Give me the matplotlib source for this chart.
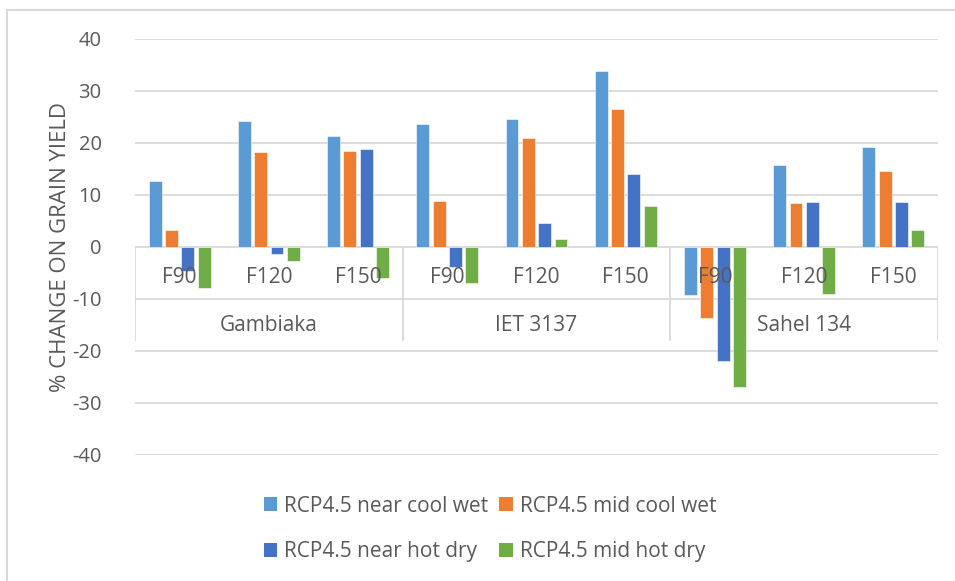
import matplotlib.pyplot as plt
from matplotlib.patches import Patch

plt.rcParams['font.family'] = ['Open Sans', 'DejaVu Sans']

varietats = ['Gambiaka', 'IET 3137', 'Sahel 134']
dosis = ['F90', 'F120', 'F150']
series = ['RCP4.5 near cool wet', 'RCP4.5 mid cool wet',
          'RCP4.5 near hot dry', 'RCP4.5 mid hot dry']
colors = ['#5B9BD5', '#ED7D31', '#4472C4', '#70AD47']

# valors per categoria (Gambiaka F90..F150, IET 3137 F90..F150, Sahel 134 F90..F150)
near_cool_wet = [12.6, 24.2, 21.3, 23.6, 24.6, 33.9, -9.2, 15.8, 19.3]
mid_cool_wet = [3.2, 18.3, 18.4, 8.9, 20.9, 26.6, -13.6, 8.4, 14.7]
near_hot_dry = [-4.6, -1.3, 18.8, -3.8, 4.7, 14.0, -21.9, 8.7, 8.7]
mid_hot_dry = [-7.9, -2.6, -5.9, -6.9, 1.6, 7.9, -27.0, -9.1, 3.3]

valors = [near_cool_wet, mid_cool_wet, near_hot_dry, mid_hot_dry]
yticks = [40, 30, 20, 10, 0, -10, -20, -30, -40]

grey = '#D9D9D9'
txt = '#595959'

fig = plt.figure(figsize=(9.55, 5.81), dpi=100)
ax = fig.add_axes([135 / 955, 1 - 455 / 581, (938 - 135) / 955, (455 - 39) / 581])

n = len(near_cool_wet)
pas = 0.183
amplada = 0.145
for k in range(len(series)):
    xs = [i + (k - 1.5) * pas for i in range(n)]
    ax.bar(xs, valors[k], width=amplada, color=colors[k], edgecolor='white',
           linewidth=0.4, zorder=3, label=series[k])

ax.set_xlim(-0.5, n - 0.5)
ax.set_ylim(-40, 40)
ax.set_yticks(yticks)
ax.set_yticklabels([str(v) for v in yticks], fontsize=14.5, color=txt)
ax.tick_params(axis='y', length=0, pad=24)
ax.set_xticks([])
for s in ax.spines.values():
    s.set_visible(False)
for v in yticks:
    ax.axhline(v, color=grey, linewidth=1.3, zorder=1)

# eix de categories en dos nivells
for xb in [-0.5, 2.5, 5.5, 8.5]:
    ax.plot([xb, xb], [0, -17.9], color=grey, linewidth=1.3, zorder=2)
for i in range(n):
    ax.text(i, -5.8, dosis[i % 3], ha='center', va='center', fontsize=15,
            color=txt, zorder=4)
for g in range(len(varietats)):
    ax.text(g * 3 + 1, -15.1, varietats[g], ha='center', va='center',
            fontsize=15, color=txt, zorder=4)

fig.text(60 / 955, 1 - 247 / 581, '% CHANGE ON GRAIN YIELD', rotation=90,
         ha='center', va='center', fontsize=16, color=txt)

# la llegenda s'omple per columnes
ordre = [0, 2, 1, 3]
handles = [Patch(facecolor=colors[k]) for k in ordre]
noms = [series[k] for k in ordre]
fig.legend(handles, noms, loc='center', bbox_to_anchor=(490 / 955, 1 - 529 / 581),
           ncol=2, frameon=False, fontsize=15, labelcolor=txt, handlelength=0.65,
           handleheight=0.65, handletextpad=0.35, columnspacing=0.5, labelspacing=1.2)

# vora del grafic
fig.add_artist(plt.Line2D([7 / 955, 7 / 955], [0, 1 - 10 / 581], color=grey,
                          linewidth=1.5, transform=fig.transFigure))
fig.add_artist(plt.Line2D([7 / 955, 1], [1 - 10 / 581, 1 - 10 / 581], color=grey,
                          linewidth=1.5, transform=fig.transFigure))

fig.savefig('out.png', dpi=100)
